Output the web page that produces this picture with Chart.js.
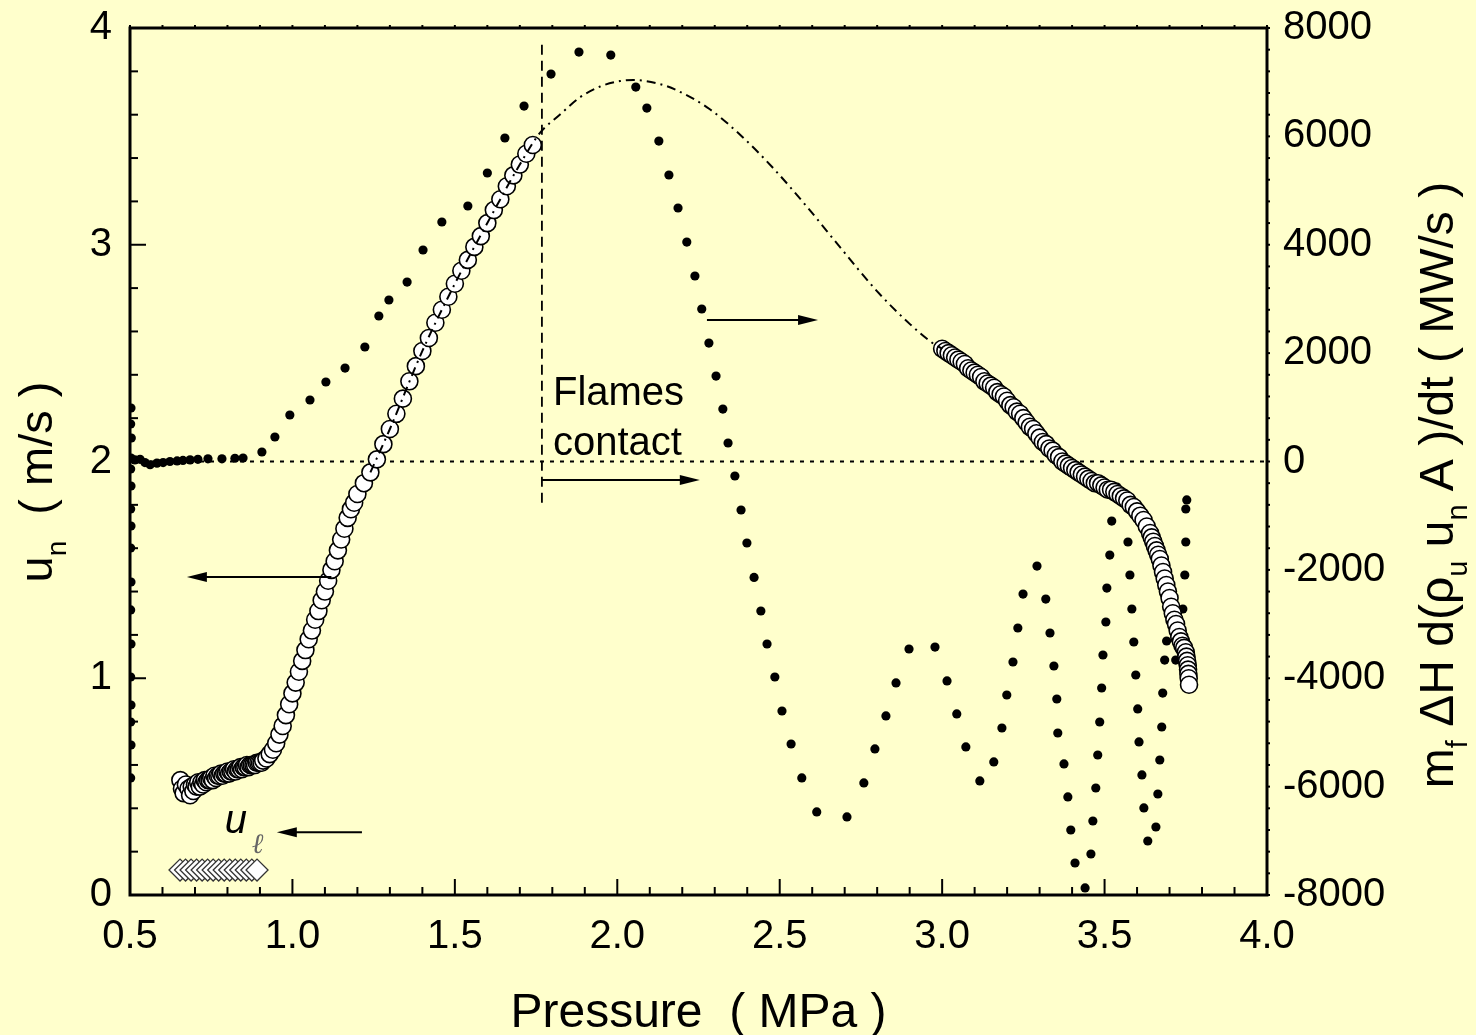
<!DOCTYPE html>
<html>
<head>
<meta charset="utf-8">
<script src="https://cdn.jsdelivr.net/npm/chart.js@4.4.0/dist/chart.umd.min.js"></script>
<style>
  html, body { margin: 0; padding: 0; background: #FFFFCC; }
  #wrap { width: 1476px; height: 1035px; }
</style>
</head>
<body>
<div id="wrap"><canvas id="chart" width="1476" height="1035"></canvas></div>
<script>
// axis ticks
var xTicks = [0.5, 1.0, 1.5, 2.0, 2.5, 3.0, 3.5, 4.0];
var unTicks = [0, 1, 2, 3, 4];
var qTicks = [-8000, -6000, -4000, -2000, 0, 2000, 4000, 6000, 8000];

// u_n, hollow circles (left axis)
var unP = [0.655,0.66,0.665,0.672,0.68,0.685,0.69,0.695,0.70,0.705,0.71,0.715,0.72,0.725,0.73,0.735,0.74,0.745,0.75,0.755,
  0.76,0.765,0.77,0.775,0.78,0.785,0.79,0.795,0.80,0.805,0.81,0.815,0.82,0.825,0.83,0.835,0.84,0.845,0.85,0.855,
  0.86,0.865,0.87,0.875,0.88,0.885,0.89,0.895,0.90,0.905,0.91,
  0.92,0.93,0.94,0.95,0.96,0.97,0.98,0.99,1.00,1.01,1.02,1.03,1.04,1.05,1.06,1.07,1.08,1.09,1.10,1.11,1.12,1.13,1.14,1.15,
  1.16,1.17,1.18,1.19,1.20,1.22,1.24,1.26,1.28,1.30,1.32,1.34,1.36,1.38,1.40,1.42,1.44,1.46,1.48,1.50,1.52,1.54,1.56,1.58,
  1.60,1.62,1.64,1.66,1.68,1.70,1.72,1.74,
  3.00,3.01,3.02,3.03,3.04,3.05,3.06,3.07,3.08,3.09,3.10,3.11,3.12,3.13,3.14,3.15,3.16,3.17,3.18,3.19,3.20,3.21,3.22,3.23,
  3.24,3.25,3.26,3.27,3.28,3.29,3.30,3.31,3.32,3.33,3.34,3.35,3.36,3.37,3.38,3.39,3.40,3.41,3.42,3.43,3.44,3.45,3.46,3.47,
  3.48,3.49,3.50,3.51,3.52,3.53,3.54,3.55,3.56,3.57,3.58,3.59,3.60,3.61,3.62,3.63,3.64,3.645,3.65,3.655,3.66,3.665,3.67,
  3.675,3.68,3.685,3.69,3.695,3.70,3.705,3.71,3.715,3.72,3.725,3.73,3.735,3.74,3.745,3.75,3.752,3.754,3.756,3.757,3.758,
  3.759,3.76];
var unU = [0.53,0.49,0.47,0.51,0.49,0.46,0.50,0.48,0.51,0.50,0.52,0.50,0.52,0.51,0.53,0.52,0.53,0.53,0.54,0.53,
  0.55,0.54,0.55,0.55,0.56,0.55,0.56,0.56,0.57,0.56,0.57,0.57,0.58,0.57,0.58,0.58,0.59,0.58,0.59,0.59,
  0.60,0.59,0.60,0.60,0.60,0.60,0.61,0.61,0.61,0.61,0.62,
  0.63,0.65,0.67,0.70,0.74,0.78,0.83,0.88,0.93,0.98,1.03,1.08,1.13,1.18,1.22,1.27,1.31,1.36,1.40,1.45,1.50,1.54,1.59,1.64,
  1.69,1.74,1.78,1.81,1.85,1.90,1.95,2.01,2.08,2.15,2.22,2.29,2.37,2.44,2.51,2.57,2.64,2.70,2.76,2.82,2.88,2.93,2.99,3.04,
  3.10,3.16,3.21,3.27,3.32,3.37,3.42,3.46,
  2.52,2.51,2.50,2.49,2.48,2.47,2.46,2.45,2.43,2.42,2.41,2.40,2.39,2.37,2.36,2.35,2.34,2.32,2.31,2.30,2.28,2.26,2.25,2.23,
  2.22,2.20,2.18,2.16,2.15,2.13,2.11,2.09,2.08,2.06,2.05,2.03,2.02,2.00,1.99,1.98,1.97,1.96,1.95,1.94,1.93,1.92,1.91,1.90,
  1.90,1.89,1.88,1.87,1.87,1.86,1.85,1.84,1.83,1.82,1.80,1.79,1.77,1.75,1.73,1.70,1.67,1.65,1.63,1.61,1.59,1.57,1.55,
  1.52,1.49,1.46,1.43,1.40,1.37,1.33,1.30,1.27,1.25,1.22,1.19,1.17,1.15,1.14,1.12,1.10,1.08,1.06,1.04,1.02,
  1.00,0.97];

// fitted u_n through the gap (dash-dot)
var fitP = [1.24,1.30,1.40,1.50,1.60,1.70,1.762,1.823,1.885,1.947,2.008,2.05,2.13,2.184,2.285,2.387,2.479,2.584,2.685,2.80,2.90,2.97,3.00];
var fitU = [1.95,2.15,2.51,2.82,3.10,3.37,3.516,3.60,3.68,3.73,3.755,3.76,3.742,3.712,3.625,3.495,3.355,3.175,2.99,2.785,2.635,2.547,2.52];

// u_l, hollow diamonds (left axis)
var ulP = [0.654,0.671,0.688,0.705,0.722,0.739,0.756,0.773,0.790,0.807,0.824,0.841,0.858,0.875,0.891];
var ulU = [0.115,0.115,0.115,0.115,0.115,0.115,0.115,0.115,0.115,0.115,0.115,0.115,0.115,0.115,0.115];

// m_f dH d(rho u A)/dt, dots (right axis, MW/s)
var qP = [0.503,0.502,0.504,0.503,0.502,0.503,0.502,0.503,0.502,0.503,0.502,0.503,0.502,0.503,0.502,0.503,0.502,
  0.515,0.531,0.546,0.562,0.583,0.602,0.623,0.645,0.663,0.685,0.709,0.74,0.783,0.823,0.848,0.906,
  0.946,0.992,1.054,1.103,1.162,1.223,1.266,1.297,1.353,1.402,1.46,1.54,1.60,1.654,1.713,1.796,1.882,1.98,
  2.057,2.091,2.128,2.159,2.187,2.214,2.239,2.26,2.282,2.304,2.325,2.341,2.362,2.381,2.399,2.421,2.442,2.461,2.485,
  2.507,2.535,2.568,2.614,
  2.707,2.759,2.793,2.827,2.858,2.898,2.978,3.015,3.045,3.073,3.116,3.159,3.184,3.199,3.218,3.233,3.249,3.292,3.319,
  3.332,3.344,3.353,3.356,3.375,3.387,3.396,3.409,3.44,3.458,3.464,3.473,3.479,3.485,3.491,3.495,3.504,3.507,3.516,
  3.522,3.538,3.572,3.578,3.584,3.59,3.596,3.602,3.606,3.615,3.621,3.633,3.658,3.664,3.67,3.676,3.679,3.685,3.691,
  3.719,3.741,3.747,3.75,3.75,3.753];
var qV = [987,692,434,65,-138,-452,-877,-1190,-1596,-2224,-2740,-3368,-3977,-4494,-4807,-5232,-5840,
  30,40,-20,-60,-30,-20,0,10,20,30,40,50,50,60,65,175,
  452,858,1135,1467,1725,2113,2685,2980,3312,3903,4420,4715,5324,5970,6560,7150,7556,7500,
  6910,6523,5914,5287,4678,4050,3423,2814,2186,1577,968,341,-268,-895,-1504,-2140,-2759,-3368,-3977,
  -4604,-5213,-5840,-6467,
  -6560,-5932,-5305,-4696,-4087,-3460,-3424,-4050,-4659,-5268,-5895,-5545,-4918,-4309,-3700,-3073,-2446,-1929,-2538,
  -3165,-3774,-4383,-5010,-5582,-6191,-6800,-7409,-7870,-7243,-6634,-6025,-5416,-4807,-4180,-3571,-2962,-2335,-1726,
  -1099,-471,-1486,-2095,-2722,-3331,-3940,-4567,-5176,-5785,-6394,-7003,-6745,-6136,-5509,-4900,-4273,-3664,-3313,
  -3664,-2722,-2095,-1486,-877,-710];

// reference lines
var contactP = [1.768, 1.768];
var contactV = [7690, -800];
var zeroP = [0.5, 4.0];
var zeroV = [0, 0];

function pts(xs, ys) { return xs.map(function (x, i) { return { x: x, y: ys[i] }; }); }

var FONT = '"Liberation Sans", Arial, sans-serif';

// annotations in data units (x: MPa, y: u_n)
var arrows = [
  [1.12, 1.467, 0.675, 1.467],
  [2.276, 2.653, 2.618, 2.653],
  [1.768, 1.915, 2.254, 1.915],
  [1.214, 0.29, 0.952, 0.29]
];

function richText(ctx, parts, size) {
  var w = 0;
  parts.forEach(function (p) {
    ctx.font = (p.sub ? Math.round(size * 0.6) : size) + 'px ' + FONT;
    p.w = ctx.measureText(p.t).width;
    w += p.w;
  });
  var x = -w / 2;
  parts.forEach(function (p) {
    ctx.font = (p.sub ? Math.round(size * 0.6) : size) + 'px ' + FONT;
    ctx.fillText(p.t, x, p.sub ? size * 0.3 : 0);
    x += p.w;
  });
}

var decor = {
  id: 'decor',
  afterDatasetsDraw: function (chart) {
    var ctx = chart.ctx, a = chart.chartArea;
    var sx = chart.scales.x, sy = chart.scales.y, sr = chart.scales.y2;
    ctx.save();
    ctx.strokeStyle = '#000';
    ctx.fillStyle = '#000';
    ctx.lineWidth = 2;
    function seg(x1, y1, x2, y2) { ctx.beginPath(); ctx.moveTo(x1, y1); ctx.lineTo(x2, y2); ctx.stroke(); }
    var i, X, Y, L;
    for (i = 0; i <= 35; i++) {
      X = sx.getPixelForValue(0.5 + i * 0.1);
      L = i % 5 === 0 ? 16 : 8;
      seg(X, a.bottom, X, a.bottom - L);
      seg(X, a.top, X, a.top - 3);
    }
    for (i = 0; i <= 20; i++) {
      Y = sy.getPixelForValue(i * 0.2);
      L = i % 5 === 0 ? 16 : 8;
      seg(a.left, Y, a.left + L, Y);
    }
    for (i = 0; i <= 40; i++) {
      Y = sr.getPixelForValue(-8000 + i * 400);
      seg(a.right, Y, a.right + 3, Y);
    }
    ctx.lineWidth = 3;
    ctx.strokeRect(a.left, a.top, a.right - a.left, a.bottom - a.top);

    // arrows
    ctx.lineWidth = 2;
    arrows.forEach(function (ar) {
      var x1 = sx.getPixelForValue(ar[0]), y1 = sy.getPixelForValue(ar[1]);
      var x2 = sx.getPixelForValue(ar[2]), y2 = sy.getPixelForValue(ar[3]);
      var d = x2 > x1 ? 1 : -1;
      seg(x1, y1, x2 - d * 14, y2);
      ctx.beginPath();
      ctx.moveTo(x2, y2);
      ctx.lineTo(x2 - d * 20, y2 - 5);
      ctx.lineTo(x2 - d * 20, y2 + 5);
      ctx.closePath();
      ctx.fill();
    });

    // labels inside the plot
    ctx.textBaseline = 'alphabetic';
    ctx.textAlign = 'left';
    ctx.font = '40px ' + FONT;
    ctx.fillText('Flames', sx.getPixelForValue(1.802), sy.getPixelForValue(2.26));
    ctx.fillText('contact', sx.getPixelForValue(1.802), sy.getPixelForValue(2.03));
    ctx.font = 'italic 40px ' + FONT;
    ctx.fillText('u', sx.getPixelForValue(0.792), sy.getPixelForValue(0.286));
    ctx.fillStyle = '#666';
    ctx.font = 'italic 28px "DejaVu Serif", serif';
    ctx.fillText('\u2113', sx.getPixelForValue(0.875), sy.getPixelForValue(0.194));
    ctx.fillStyle = '#000';

    // axis titles
    ctx.save();
    ctx.translate(52, 482);
    ctx.rotate(-Math.PI / 2);
    richText(ctx, [{ t: 'u' }, { t: 'n', sub: true }, { t: '  ( m/s )' }], 47);
    ctx.restore();

    ctx.save();
    ctx.translate(1453, 485);
    ctx.rotate(-Math.PI / 2);
    richText(ctx, [{ t: 'm' }, { t: 'f', sub: true }, { t: ' \u0394H d(\u03C1' }, { t: 'u', sub: true },
      { t: ' u' }, { t: 'n', sub: true }, { t: ' A )/dt ( MW/s )' }], 48);
    ctx.restore();

    ctx.textAlign = 'center';
    ctx.font = '48px ' + FONT;
    ctx.fillText('Pressure  ( MPa )', (a.left + a.right) / 2, 1027);
    ctx.restore();
  }
};

var tickFont = { family: FONT, size: 40 };

function fixV(w) {
  return function (s) { s.width = w; s.paddingTop = 0; s.paddingBottom = 0; };
}

new Chart(document.getElementById('chart'), {
  type: 'scatter',
  data: {
    datasets: [
      { data: pts(fitP, fitU), yAxisID: 'y', showLine: true, pointRadius: 0, borderColor: '#000',
        borderWidth: 2, borderDash: [9, 5, 2, 5], cubicInterpolationMode: 'monotone' },
      { data: pts(contactP, contactV), yAxisID: 'y2', showLine: true, pointRadius: 0, borderColor: '#000',
        borderWidth: 1.8, borderDash: [10, 6] },
      { data: pts(unP, unU), yAxisID: 'y', pointRadius: 8.5, pointBackgroundColor: '#fff',
        pointBorderColor: '#000', pointBorderWidth: 1.6 },
      { data: pts(ulP, ulU), yAxisID: 'y', pointStyle: 'rectRot', pointRadius: 11, pointBackgroundColor: '#fff',
        pointBorderColor: '#333', pointBorderWidth: 1.3 },
      { data: pts(zeroP, zeroV), yAxisID: 'y2', showLine: true, pointRadius: 0, borderColor: '#000',
        borderWidth: 2, borderDash: [4, 6] },
      { data: pts(qP, qV), yAxisID: 'y2', pointRadius: 4.6, pointBackgroundColor: '#000',
        pointBorderColor: '#000', pointBorderWidth: 0 }
    ]
  },
  options: {
    responsive: false,
    animation: false,
    events: [],
    layout: { padding: { top: 28, left: 0, right: 0, bottom: 0 } },
    plugins: { legend: { display: false }, tooltip: { enabled: false } },
    scales: {
      x: {
        type: 'linear', position: 'bottom', min: 0.5, max: 4.0,
        afterBuildTicks: function (s) { s.ticks = xTicks.map(function (v) { return { value: v }; }); },
        afterFit: function (s) { s.height = 140; s.paddingLeft = 0; s.paddingRight = 0; },
        grid: { display: false, drawTicks: false }, border: { display: false },
        ticks: { font: tickFont, color: '#000', padding: 18, maxRotation: 0,
          callback: function (v) { return v.toFixed(1); } }
      },
      y: {
        type: 'linear', position: 'left', min: 0, max: 4,
        afterBuildTicks: function (s) { s.ticks = unTicks.map(function (v) { return { value: v }; }); },
        afterFit: fixV(130),
        grid: { display: false, drawTicks: false }, border: { display: false },
        ticks: { font: tickFont, color: '#000', padding: 18 }
      },
      y2: {
        type: 'linear', position: 'right', min: -8000, max: 8000,
        afterBuildTicks: function (s) { s.ticks = qTicks.map(function (v) { return { value: v }; }); },
        afterFit: fixV(209),
        grid: { display: false, drawTicks: false }, border: { display: false },
        ticks: { font: tickFont, color: '#000', padding: 16, callback: function (v) { return String(v); } }
      }
    }
  },
  plugins: [decor]
});
</script>
</body>
</html>
